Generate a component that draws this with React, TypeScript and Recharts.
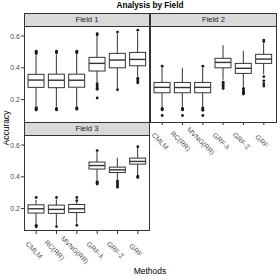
import { ComposedChart, Bar, Scatter, XAxis, YAxis } from "recharts";

const METHODS = ["CMLM", "RC(RR)", "MVNG(RR)", "GRF-λ", "GRF-Σ", "GRF"];
const Y_TICKS = [0.2, 0.4, 0.6];
const Y_DOMAIN = [0.059, 0.657];

// Field 1
const F1_LO = [0.16, 0.155, 0.16, 0.31, 0.27, 0.345];
const F1_Q1 = [0.277, 0.275, 0.278, 0.38, 0.4, 0.413];
const F1_MED = [0.323, 0.322, 0.322, 0.428, 0.449, 0.453];
const F1_Q3 = [0.359, 0.36, 0.36, 0.466, 0.491, 0.497];
const F1_HI = [0.48, 0.485, 0.488, 0.6, 0.615, 0.625];
const F1_OUT = [
  [0.49, 0.495, 0.5, 0.505, 0.15, 0.145, 0.14, 0.135],
  [0.495, 0.5, 0.505, 0.145, 0.14, 0.135],
  [0.495, 0.5, 0.505, 0.15, 0.145, 0.14],
  [0.608, 0.615, 0.3, 0.29, 0.28, 0.27, 0.265, 0.21],
  [0.625, 0.262],
  [0.637, 0.335, 0.325, 0.315, 0.305],
];

// Field 2
const F2_LO = [0.15, 0.15, 0.15, 0.325, 0.28, 0.36];
const F2_Q1 = [0.243, 0.243, 0.243, 0.4, 0.365, 0.428];
const F2_MED = [0.277, 0.276, 0.277, 0.434, 0.397, 0.455];
const F2_Q3 = [0.308, 0.308, 0.308, 0.46, 0.428, 0.485];
const F2_HI = [0.4, 0.4, 0.4, 0.543, 0.507, 0.555];
const F2_OUT = [
  [0.41, 0.145, 0.14, 0.135, 0.1],
  [0.145, 0.14, 0.135, 0.1],
  [0.41, 0.148, 0.143, 0.138, 0.133, 0.1],
  [0.31, 0.3, 0.29, 0.28, 0.27],
  [0.27, 0.26, 0.25, 0.245, 0.24, 0.235],
  [0.565, 0.575, 0.345, 0.318, 0.3, 0.285],
];

// Field 3
const F3_LO = [0.1, 0.095, 0.105, 0.38, 0.385, 0.41];
const F3_Q1 = [0.172, 0.17, 0.175, 0.449, 0.427, 0.48];
const F3_MED = [0.199, 0.195, 0.199, 0.471, 0.444, 0.497];
const F3_Q3 = [0.224, 0.222, 0.226, 0.493, 0.461, 0.518];
const F3_HI = [0.255, 0.258, 0.24, 0.555, 0.52, 0.582];
const F3_OUT = [
  [0.27, 0.095, 0.09, 0.085],
  [0.27, 0.087],
  [0.27, 0.25, 0.095],
  [0.565, 0.37, 0.365, 0.36, 0.355],
  [0.375, 0.365, 0.355, 0.345, 0.335],
  [0.59, 0.405, 0.4, 0.395],
];

const FONT = '"Liberation Sans", Arial, sans-serif';
const INK = "#333333";

function makeRows(lo: number[], q1: number[], med: number[], q3: number[], hi: number[]) {
  return METHODS.map((name, i) => ({
    x: i + 1,
    name,
    range: [lo[i], hi[i]],
    lo: lo[i],
    q1: q1[i],
    med: med[i],
    q3: q3[i],
    hi: hi[i],
  }));
}

function makeOutliers(out: number[][]) {
  return out.flatMap((vals, i) => vals.map((y) => ({ x: i + 1, y })));
}

function BoxShape(props: any) {
  const { x, y, width, height, payload } = props;
  if (!payload) return null;
  const top = Math.min(y, y + height);
  const h = Math.abs(height);
  const span = payload.hi - payload.lo;
  const py = (v: number) => top + ((payload.hi - v) / span) * h;
  const cx = x + width / 2;
  return (
    <g stroke={INK} strokeWidth={1}>
      <line x1={cx} x2={cx} y1={py(payload.hi)} y2={py(payload.q3)} />
      <line x1={cx} x2={cx} y1={py(payload.q1)} y2={py(payload.lo)} />
      <rect x={x} y={py(payload.q3)} width={width} height={py(payload.q1) - py(payload.q3)} fill="#fff" />
      <line x1={x} x2={x + width} y1={py(payload.med)} y2={py(payload.med)} strokeWidth={1.4} />
    </g>
  );
}

function Dot(props: any) {
  return <circle cx={props.cx} cy={props.cy} r={1.4} fill="#1a1a1a" />;
}

function MethodTick({ x, y, payload }: any) {
  const label = METHODS[Math.round(payload.value) - 1];
  const tx = x - 2;
  const ty = y + 14;
  return (
    <text
      x={tx}
      y={ty}
      transform={`rotate(45, ${tx}, ${ty})`}
      textAnchor="middle"
      dominantBaseline="central"
      fontSize={7}
      fill="#4d4d4d"
    >
      {label}
    </text>
  );
}

interface PanelProps {
  rows: any[];
  outliers: any[];
  margin: { top: number; right: number; bottom: number; left: number };
  showX: boolean;
  showY: boolean;
}

function Panel({ rows, outliers, margin, showX, showY }: PanelProps) {
  return (
    <div style={{ position: "absolute", left: 0, top: 0 }}>
      <ComposedChart width={280} height={280} data={rows} margin={margin}>
        <XAxis
          type="number"
          dataKey="x"
          domain={[0.4, 6.6]}
          ticks={[1, 2, 3, 4, 5, 6]}
          interval={0}
          allowDataOverflow
          axisLine={false}
          tickLine={showX ? { stroke: INK } : false}
          tickSize={3}
          tickMargin={2}
          tick={showX ? <MethodTick /> : false}
          height={showX ? 40 : 0}
        />
        <YAxis
          type="number"
          domain={Y_DOMAIN}
          ticks={Y_TICKS}
          allowDataOverflow
          axisLine={false}
          tickLine={showY ? { stroke: INK } : false}
          tickSize={3}
          tickMargin={1}
          tick={showY ? { fontSize: 7, fill: "#4d4d4d" } : false}
          tickFormatter={(v: number) => v.toFixed(1)}
          width={showY ? 24 : 0}
        />
        <Bar dataKey="range" barSize={16} shape={BoxShape} isAnimationActive={false} />
        <Scatter data={outliers} dataKey="y" shape={Dot} isAnimationActive={false} />
      </ComposedChart>
    </div>
  );
}

function Strip({ left, top, width, label }: { left: number; top: number; width: number; label: string }) {
  return (
    <div
      style={{
        position: "absolute",
        left,
        top,
        width,
        height: 14,
        boxSizing: "border-box",
        background: "#d9d9d9",
        border: `1px solid ${INK}`,
        fontSize: 7.7,
        fontWeight: "normal",
        lineHeight: "12px",
        textAlign: "center",
        color: "#1a1a1a",
      }}
    >
      {label}
    </div>
  );
}

function Frame({ left, top, width, height }: { left: number; top: number; width: number; height: number }) {
  return (
    <div
      style={{
        position: "absolute",
        left,
        top,
        width,
        height,
        boxSizing: "border-box",
        border: `1px solid ${INK}`,
        pointerEvents: "none",
      }}
    />
  );
}

export default function App() {
  const rows1 = makeRows(F1_LO, F1_Q1, F1_MED, F1_Q3, F1_HI);
  const rows2 = makeRows(F2_LO, F2_Q1, F2_MED, F2_Q3, F2_HI);
  const rows3 = makeRows(F3_LO, F3_Q1, F3_MED, F3_Q3, F3_HI);

  return (
    <div
      style={{
        position: "fixed",
        left: 0,
        top: 0,
        width: 280,
        height: 280,
        background: "#fff",
        fontFamily: FONT,
        overflow: "hidden",
      }}
    >
      <div
        style={{
          position: "absolute",
          left: 24,
          top: 0,
          width: 252,
          textAlign: "center",
          fontSize: 8.2,
          fontWeight: "bold",
          lineHeight: "12px",
          color: "#000",
        }}
      >
        Analysis by Field
      </div>

      <Panel rows={rows1} outliers={makeOutliers(F1_OUT)} margin={{ top: 27, right: 130, bottom: 158, left: 0 }} showX={false} showY />
      <Panel rows={rows2} outliers={makeOutliers(F2_OUT)} margin={{ top: 27, right: 4, bottom: 118, left: 150 }} showX showY={false} />
      <Panel rows={rows3} outliers={makeOutliers(F3_OUT)} margin={{ top: 136, right: 130, bottom: 9, left: 0 }} showX showY />

      <Strip left={24} top={13} width={126} label="Field 1" />
      <Strip left={150} top={13} width={127} label="Field 2" />
      <Strip left={24} top={122} width={126} label="Field 3" />
      <Frame left={24} top={26} width={126} height={97} />
      <Frame left={150} top={26} width={127} height={97} />
      <Frame left={24} top={135} width={126} height={96} />

      <div
        style={{
          position: "absolute",
          left: 6,
          top: 128,
          transform: "translate(-50%, -50%) rotate(-90deg)",
          fontSize: 8.5,
          color: "#000",
          whiteSpace: "nowrap",
        }}
      >
        Accuracy
      </div>
      <div
        style={{
          position: "absolute",
          left: 24,
          top: 266,
          width: 252,
          textAlign: "center",
          fontSize: 8.5,
          color: "#000",
        }}
      >
        Methods
      </div>
    </div>
  );
}
